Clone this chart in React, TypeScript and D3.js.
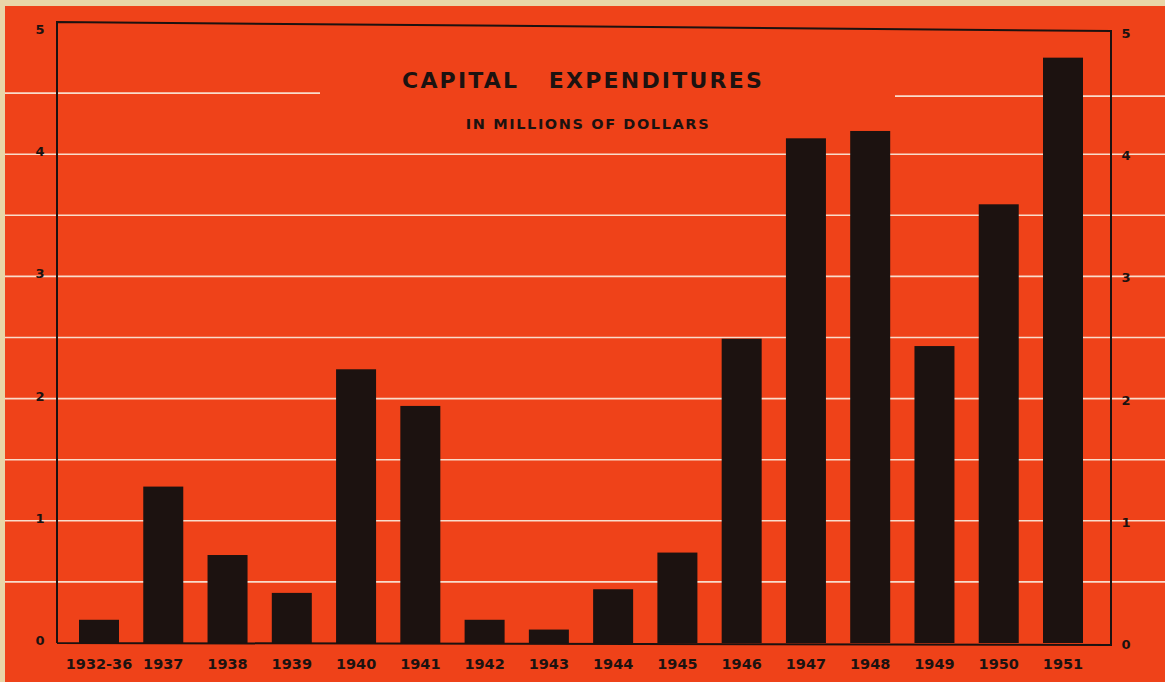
import React from "react";
import * as d3 from "d3";

const categories = ["1932-36", "1937", "1938", "1939", "1940", "1941", "1942", "1943", "1944", "1945", "1946", "1947", "1948", "1949", "1950", "1951"];
const values = [0.19, 1.28, 0.72, 0.41, 2.24, 1.94, 0.19, 0.11, 0.44, 0.74, 2.49, 4.13, 4.19, 2.43, 3.59, 4.79];
const yTicks = [0, 1, 2, 3, 4, 5];
const gridValues = [0.5, 1, 1.5, 2, 2.5, 3, 3.5, 4, 4.5];

const W = 1165;
const H = 682;
const RED = "#ef4219";
const PAPER = "#e9d6a8";
const INK = "#1c1210";
const GRID = "#f9dccb";
const FONT = "'DejaVu Sans', Verdana, sans-serif";

export default function App() {
  const frameL = 57, frameR = 1111, frameTL = 22, frameTR = 31, frameB = 643;
  const y = d3.scaleLinear().domain([0, 5]).range([643, 32]);
  const x = d3.scalePoint<string>().domain(categories).range([99, 1063]);
  const barW = 40;

  return (
    <svg width={W} height={H} style={{ position: "absolute", left: 0, top: 0 }}>
      <rect x={0} y={0} width={W} height={H} fill={PAPER} />
      <rect x={5} y={6} width={W - 5} height={H - 6} fill={RED} />
      {/* gridlines */}
      {gridValues.map((g) =>
        g === 4.5 ? (
          <g key={g}>
            <line x1={5} x2={320} y1={y(g)} y2={y(g)} stroke={GRID} strokeWidth={1.6} />
            <line x1={895} x2={W} y1={y(g) + 3} y2={y(g) + 3} stroke={GRID} strokeWidth={1.6} />
          </g>
        ) : (
          <line key={g} x1={5} x2={W} y1={y(g)} y2={y(g)} stroke={GRID} strokeWidth={1.6} />
        )
      )}
      {/* bars */}
      {categories.map((c, i) => (
        <rect key={c} x={(x(c) as number) - barW / 2} y={y(values[i])} width={barW} height={y(0) - y(values[i])} fill={INK} />
      ))}
      {/* frame */}
      <path d={`M${frameL},${frameB} L${frameL},${frameTL} L${frameR},${frameTR} L${frameR},${frameB + 2} L${frameL},${frameB}`} fill="none" stroke={INK} strokeWidth={2} />
      {/* y tick labels */}
      {yTicks.map((t) => (
        <g key={t}>
          <text x={40} y={y(t) + 2} textAnchor="middle" fontFamily={FONT} fontWeight="bold" fontSize={13} fill={INK}>{t}</text>
          <text x={1126} y={y(t) + 6} textAnchor="middle" fontFamily={FONT} fontWeight="bold" fontSize={13} fill={INK}>{t}</text>
        </g>
      ))}
      {/* x labels */}
      {categories.map((c) => (
        <text key={c} x={x(c) as number} y={669} textAnchor="middle" fontFamily={FONT} fontWeight="bold" fontSize={14.5} fill={INK}>{c}</text>
      ))}
      {/* title */}
      <text x={583} y={88} textAnchor="middle" fontFamily={FONT} fontWeight="bold" fontSize={22} letterSpacing={2.2} fill={INK} style={{ whiteSpace: "pre" }}>{"CAPITAL   EXPENDITURES"}</text>
      <text x={588} y={129} textAnchor="middle" fontFamily={FONT} fontWeight="bold" fontSize={14.5} letterSpacing={1.6} fill={INK}>IN MILLIONS OF DOLLARS</text>
    </svg>
  );
}
